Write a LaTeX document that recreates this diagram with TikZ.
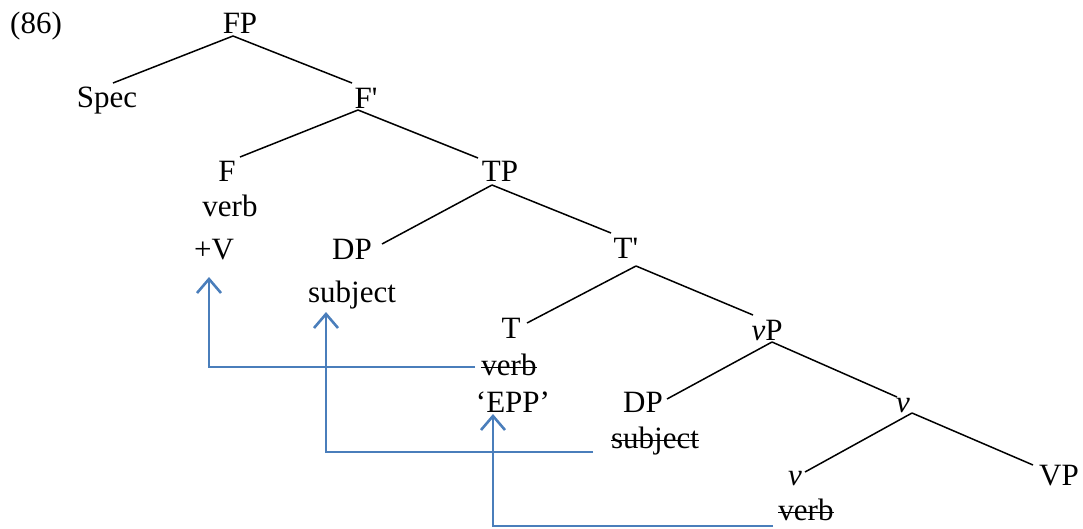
\documentclass[tikz,border=0pt]{standalone}
\usepackage{fontspec}
\setmainfont{Liberation Serif}
\usetikzlibrary{calc,arrows.meta}
\definecolor{mvblue}{HTML}{4A7EBB}
\tikzset{
  lab/.style={inner sep=0pt, anchor=base, font=\fontsize{31}{37}\selectfont},
  edge/.style={line width=1.5pt, black},
  strike/.style={line width=1.4pt, black},
  mv/.style={line width=2.6pt, mvblue, -{Straight Barb[length=14pt,width=24pt,line width=2.6pt]}}
}
\newcommand{\off}[2]{($(#1.base)+#2$)}
\newcommand{\strikeout}[1]{\draw[strike] ($(#1.base west)+(0,-7.5)$) -- ($(#1.base east)+(0,-7.5)$);}
\begin{document}
\begin{tikzpicture}[x=1pt,y=-1pt]
\useasboundingbox (0,0) rectangle (1083,528);
% nodes
\node[lab] (n86)  at (36,33)  {(86)};
\node[lab] (FP)   at (240,33) {FP};
\node[lab] (Spec) at (107,107) {Spec};
\node[lab] (Fp)   at (366,108) {F\textquotesingle};
\node[lab] (F)    at (227,181) {F};
\node[lab] (TP)   at (500,181) {TP};
\node[lab] (verbF) at (230,216) {verb};
\node[lab] (plusV) at (214,259) {+V};
\node[lab] (DP1)  at (352,259) {DP};
\node[lab] (Tp)   at (626,258) {T\textquotesingle};
\node[lab] (subj1) at (352,302) {subject};
\node[lab] (T)    at (511,338) {T};
\node[lab] (vP)   at (767,340) {\textit{v}P};
\node[lab] (verbT) at (509,375) {verb};
\node[lab] (EPP)  at (513,412) {‘EPP’};
\node[lab] (DP2)  at (643,412) {DP};
\node[lab] (v1)   at (903,412) {\textit{v}};
\node[lab] (subj2) at (655,448) {subject};
\node[lab] (v2)   at (795,485) {\textit{v}};
\node[lab] (VP)   at (1059,485) {VP};
\node[lab] (verbv) at (806,520) {verb};
\strikeout{verbT}
\strikeout{subj2}
\strikeout{verbv}
% tree edges
\draw[edge] \off{FP}{(-7,3)} -- \off{Spec}{(6,-24)};
\draw[edge] \off{FP}{(-7,3)} -- \off{Fp}{(-14,-25)};
\draw[edge] \off{Fp}{(-8,2)} -- \off{F}{(13,-24)};
\draw[edge] \off{Fp}{(-8,2)} -- \off{TP}{(-22,-23)};
\draw[edge] \off{TP}{(-8,4)} -- \off{DP1}{(30,-15)};
\draw[edge] \off{TP}{(-8,4)} -- \off{Tp}{(-15,-25)};
\draw[edge] \off{Tp}{(10,8)} -- \off{T}{(16,-15)};
\draw[edge] \off{Tp}{(10,8)} -- \off{vP}{(-14,-25)};
\draw[edge] \off{vP}{(5,2)} -- \off{DP2}{(24,-13)};
\draw[edge] \off{vP}{(5,2)} -- \off{v1}{(-6,-15)};
\draw[edge] \off{v1}{(9,1)} -- \off{v2}{(10,-13)};
\draw[edge] \off{v1}{(9,1)} -- \off{VP}{(-26,-20)};
% movement arrows
\draw[mv] \off{verbT}{(-34,-8)} -| \off{plusV}{(-5,18)};
\draw[mv] \off{subj2}{(-62,4)} -| \off{subj1}{(-26,10)};
\draw[mv] \off{verbv}{(-33,6)} -| \off{EPP}{(-20,2)};
\end{tikzpicture}
\end{document}
